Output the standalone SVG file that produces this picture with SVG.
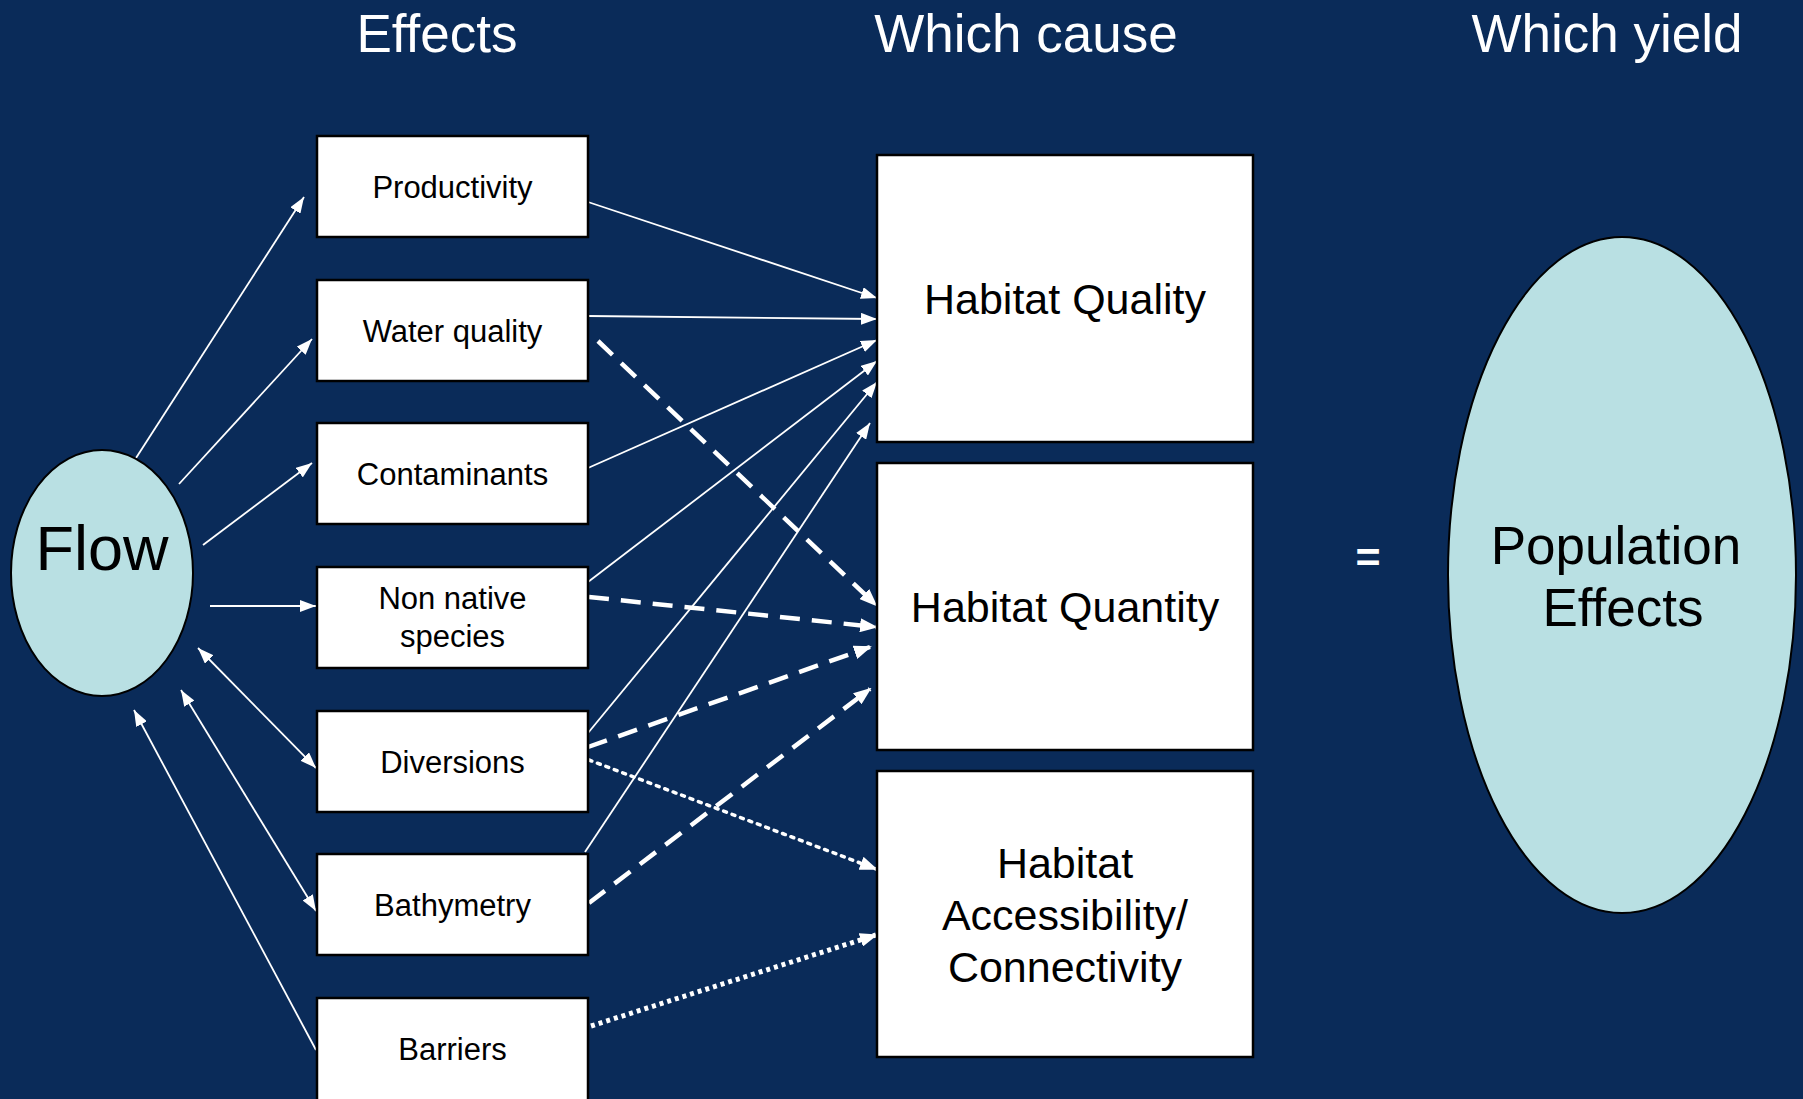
<svg xmlns="http://www.w3.org/2000/svg" width="1803" height="1099" viewBox="0 0 1803 1099">
<defs>
<style>
.hdr{font-family:"Liberation Sans",Arial,sans-serif;font-size:53px;fill:#fff;text-anchor:middle}
.box{fill:#fff;stroke:#000;stroke-width:2.5}
.ell{fill:#b9e0e3;stroke:#000;stroke-width:2}
.t31{font-family:"Liberation Sans",Arial,sans-serif;font-size:31px;fill:#000;text-anchor:middle}
.t43{font-family:"Liberation Sans",Arial,sans-serif;font-size:43px;fill:#000;text-anchor:middle}
.t53{font-family:"Liberation Sans",Arial,sans-serif;font-size:53px;fill:#000;text-anchor:middle}
.solid{stroke:#fff;stroke-width:1.8;fill:none;marker-end:url(#ah)}
.dash{stroke:#fff;stroke-width:4.5;fill:none;stroke-dasharray:20 12;marker-end:url(#ahb)}
.dot1{stroke:#fff;stroke-width:3.5;fill:none;stroke-dasharray:3 6;stroke-linecap:round;marker-end:url(#ahb)}
.dot2{stroke:#fff;stroke-width:5;fill:none;stroke-dasharray:4 4;marker-end:url(#ahb)}
</style>
<marker id="ah" markerUnits="userSpaceOnUse" markerWidth="16" markerHeight="12" refX="16" refY="6" orient="auto-start-reverse">
<path d="M0,0 L16,6 L0,12 z" fill="#fff"/>
</marker>
<marker id="ahb" markerUnits="userSpaceOnUse" markerWidth="18" markerHeight="14" refX="16" refY="7" orient="auto">
<path d="M0,0 L18,7 L0,14 z" fill="#fff"/>
</marker>
</defs>
<rect x="0" y="0" width="1803" height="1099" fill="#0a2b59"/>

<g id="headers">
<text class="hdr" x="437" y="52">Effects</text>
<text class="hdr" x="1026" y="52">Which cause</text>
<text class="hdr" x="1607" y="52">Which yield</text>
<text x="1368" y="572" font-family="Liberation Sans, Arial, sans-serif" font-size="43" font-weight="bold" fill="#fff" text-anchor="middle">=</text>
</g>

<g id="connectors">
<line class="solid" x1="136" y1="458" x2="304" y2="197"/>
<line class="solid" x1="179" y1="484" x2="312" y2="339"/>
<line class="solid" x1="203" y1="545" x2="312" y2="463"/>
<line class="solid" x1="210" y1="606" x2="316" y2="606"/>
<line class="solid" x1="198" y1="648" x2="316" y2="768" style="marker-start:url(#ah)"/>
<line class="solid" x1="181" y1="690" x2="316" y2="911" style="marker-start:url(#ah)"/>
<line class="solid" x1="316" y1="1050" x2="134" y2="710"/>

<line class="solid" x1="588" y1="202" x2="877" y2="298"/>
<line class="solid" x1="588" y1="316" x2="877" y2="319"/>
<line class="solid" x1="588" y1="468" x2="877" y2="340"/>
<line class="solid" x1="588" y1="582" x2="877" y2="361"/>
<line class="solid" x1="588" y1="733" x2="877" y2="382"/>
<line class="solid" x1="585" y1="852" x2="870" y2="423"/>

<line class="dash" x1="598" y1="341" x2="876" y2="605"/>
<line class="dash" x1="589" y1="597" x2="876" y2="627"/>
<line class="dash" x1="588" y1="747" x2="870" y2="647"/>
<line class="dash" x1="589" y1="903" x2="870" y2="689"/>

<line class="dot1" x1="589" y1="760" x2="876" y2="869"/>
<line class="dot2" x1="591" y1="1026" x2="876" y2="935"/>
</g>

<g id="flow">
<ellipse class="ell" cx="102" cy="573" rx="91" ry="123"/>
<text class="t53" x="102" y="570" style="font-size:63px">Flow</text>
</g>

<g id="productivity">
<rect class="box" x="317" y="136" width="271" height="101"/>
<text class="t31" x="452.5" y="197.5">Productivity</text>
</g>
<g id="water-quality">
<rect class="box" x="317" y="280" width="271" height="101"/>
<text class="t31" x="452.5" y="341.5">Water quality</text>
</g>
<g id="contaminants">
<rect class="box" x="317" y="423" width="271" height="101"/>
<text class="t31" x="452.5" y="484.5">Contaminants</text>
</g>
<g id="non-native">
<rect class="box" x="317" y="567" width="271" height="101"/>
<text class="t31" x="452.5" y="609">Non native</text>
<text class="t31" x="452.5" y="647">species</text>
</g>
<g id="diversions">
<rect class="box" x="317" y="711" width="271" height="101"/>
<text class="t31" x="452.5" y="772.5">Diversions</text>
</g>
<g id="bathymetry">
<rect class="box" x="317" y="854" width="271" height="101"/>
<text class="t31" x="452.5" y="915.5">Bathymetry</text>
</g>
<g id="barriers">
<rect class="box" x="317" y="998" width="271" height="104"/>
<text class="t31" x="452.5" y="1059.5">Barriers</text>
</g>

<g id="habitat-quality">
<rect class="box" x="877" y="155" width="376" height="287"/>
<text class="t43" x="1065" y="314">Habitat Quality</text>
</g>
<g id="habitat-quantity">
<rect class="box" x="877" y="463" width="376" height="287"/>
<text class="t43" x="1065" y="622">Habitat Quantity</text>
</g>
<g id="habitat-access">
<rect class="box" x="877" y="771" width="376" height="286"/>
<text class="t43" x="1065" y="878">Habitat</text>
<text class="t43" x="1065" y="930">Accessibility/</text>
<text class="t43" x="1065" y="982">Connectivity</text>
</g>

<g id="population-effects">
<ellipse class="ell" cx="1622" cy="575" rx="174" ry="338"/>
<text class="t53" x="1616" y="564">Population</text>
<text class="t53" x="1623" y="626">Effects</text>
</g>
</svg>
